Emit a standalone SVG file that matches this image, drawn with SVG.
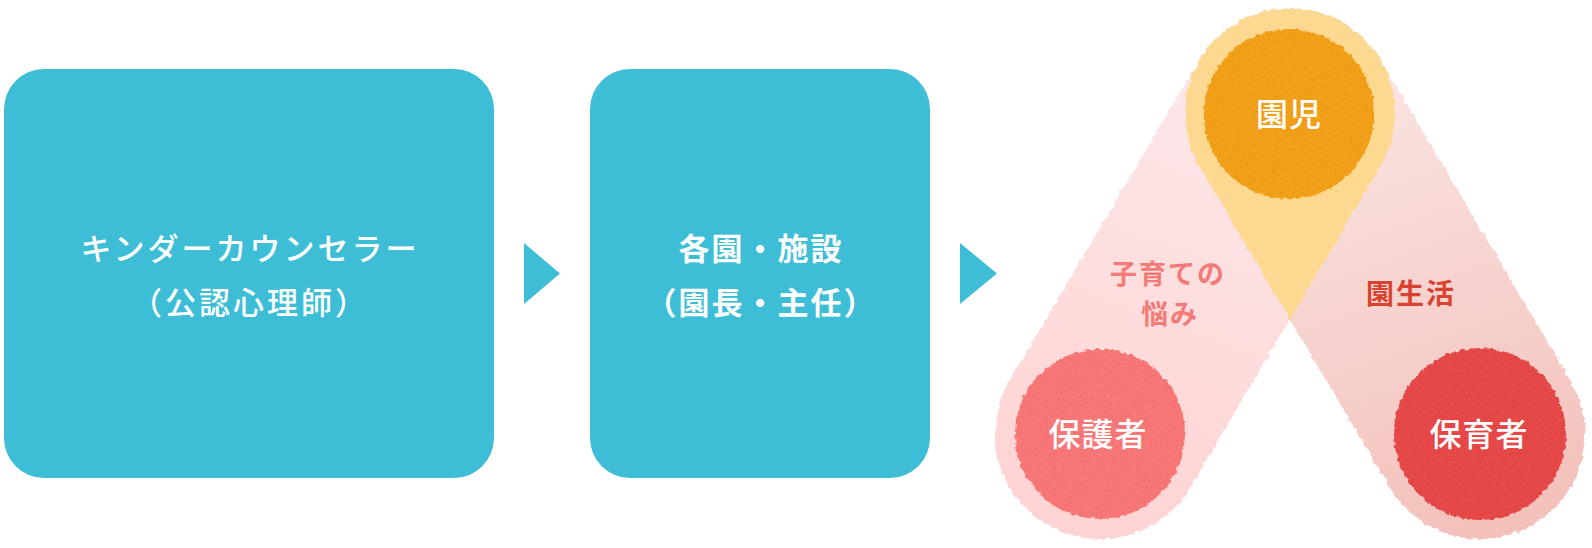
<svg xmlns="http://www.w3.org/2000/svg" width="1592" height="548" viewBox="0 0 1592 548">
  <style>
    .box { fill: #3DBED6; }
    .arrow { fill: #3DBED6; }
    .jp { font-family: "Noto Sans CJK JP", "Noto Sans", sans-serif; }
    .boxtxt1 { fill: #FFFFFF; font-size: 31px; font-weight: 500; letter-spacing: 3px; text-anchor: middle; }
    .boxtxt2 { fill: #FFFFFF; font-size: 31px; font-weight: 700; letter-spacing: 2px; text-anchor: middle; }
    .circtxt { fill: #FFFFFF; font-size: 32px; font-weight: 500; letter-spacing: 1px; text-anchor: middle; }
    .lbl1 { fill: #F27B77; font-size: 27px; font-weight: 700; letter-spacing: 2px; text-anchor: middle; }
    .lbl2 { fill: #D8432F; font-size: 28px; font-weight: 700; letter-spacing: 2px; text-anchor: middle; }
  </style>
  <defs>
    <linearGradient id="gLeft" gradientUnits="userSpaceOnUse" x1="1290" y1="20" x2="1100" y2="540">
      <stop offset="0" stop-color="#FCEAEC"/>
      <stop offset="1" stop-color="#FFD3D3"/>
    </linearGradient>
    <linearGradient id="gRight" gradientUnits="userSpaceOnUse" x1="1290" y1="20" x2="1480" y2="540">
      <stop offset="0" stop-color="#FBEAE8"/>
      <stop offset="1" stop-color="#F3C0BA"/>
    </linearGradient>
    <filter id="rough" filterUnits="userSpaceOnUse" x="960" y="0" width="632" height="548">
      <feTurbulence type="fractalNoise" baseFrequency="0.18" numOctaves="2" seed="2" result="n"/>
      <feDisplacementMap in="SourceGraphic" in2="n" scale="5" xChannelSelector="R" yChannelSelector="G"/>
    </filter>
    <filter id="tex" x="-10%" y="-10%" width="120%" height="120%">
      <feTurbulence type="fractalNoise" baseFrequency="0.2" numOctaves="2" seed="7" result="n1"/>
      <feDisplacementMap in="SourceGraphic" in2="n1" scale="5" xChannelSelector="R" yChannelSelector="G" result="d"/>
      <feTurbulence type="fractalNoise" baseFrequency="0.55" numOctaves="2" seed="5" result="n2"/>
      <feColorMatrix in="n2" type="matrix" values="0 0 0 0 0  0 0 0 0 0  0 0 0 0 0  0 0 0 -0.4 0.22" result="grain"/>
      <feComposite in="grain" in2="d" operator="in" result="g2"/>
      <feMerge><feMergeNode in="d"/><feMergeNode in="g2"/></feMerge>
    </filter>
  </defs>

  <g id="node-counselor">
    <rect class="box" x="4" y="69" width="490" height="409" rx="40"/>
    <text class="jp boxtxt1" x="250" y="260">キンダーカウンセラー</text>
    <text class="jp boxtxt1" x="250" y="314">（公認心理師）</text>
  </g>

  <g id="node-facility">
    <rect class="box" x="590" y="69" width="340" height="409" rx="40"/>
    <text class="jp boxtxt2" x="761" y="260">各園・施設</text>
    <text class="jp boxtxt2" x="761" y="314">（園長・主任）</text>
  </g>

  <g id="connectors">
    <polygon class="arrow" points="524,243 560,273.5 524,304"/>
    <polygon class="arrow" points="960,243 997,273.5 960,304"/>
  </g>

  <g id="relations" filter="url(#rough)">
    <line x1="1290" y1="113" x2="1100" y2="434" stroke="url(#gLeft)" stroke-width="210" stroke-linecap="round"/>
    <line x1="1290" y1="113" x2="1480" y2="434" stroke="url(#gRight)" stroke-width="210" stroke-linecap="round"/>
    <path d="M 1290 319.3 L 1199.6 166.4 A 105 105 0 1 1 1380.4 166.4 Z" fill="#FCD891"/>
  </g>

  <g id="label-worries">
    <text class="jp lbl1" x="1168" y="284">子育ての</text>
    <text class="jp lbl1" x="1170" y="324">悩み</text>
  </g>
  <g id="label-schoollife">
    <text class="jp lbl2" x="1411" y="304">園生活</text>
  </g>

  <g id="node-child">
    <circle cx="1289" cy="114" r="85" fill="#F4A11C" filter="url(#tex)"/>
    <text class="jp circtxt" x="1289" y="126">園児</text>
  </g>
  <g id="node-guardian">
    <circle cx="1100" cy="434" r="85" fill="#FA7878" filter="url(#tex)"/>
    <text class="jp circtxt" x="1098" y="446">保護者</text>
  </g>
  <g id="node-caregiver">
    <circle cx="1480" cy="434" r="86" fill="#E84A4A" filter="url(#tex)"/>
    <text class="jp circtxt" x="1479" y="446">保育者</text>
  </g>
</svg>
